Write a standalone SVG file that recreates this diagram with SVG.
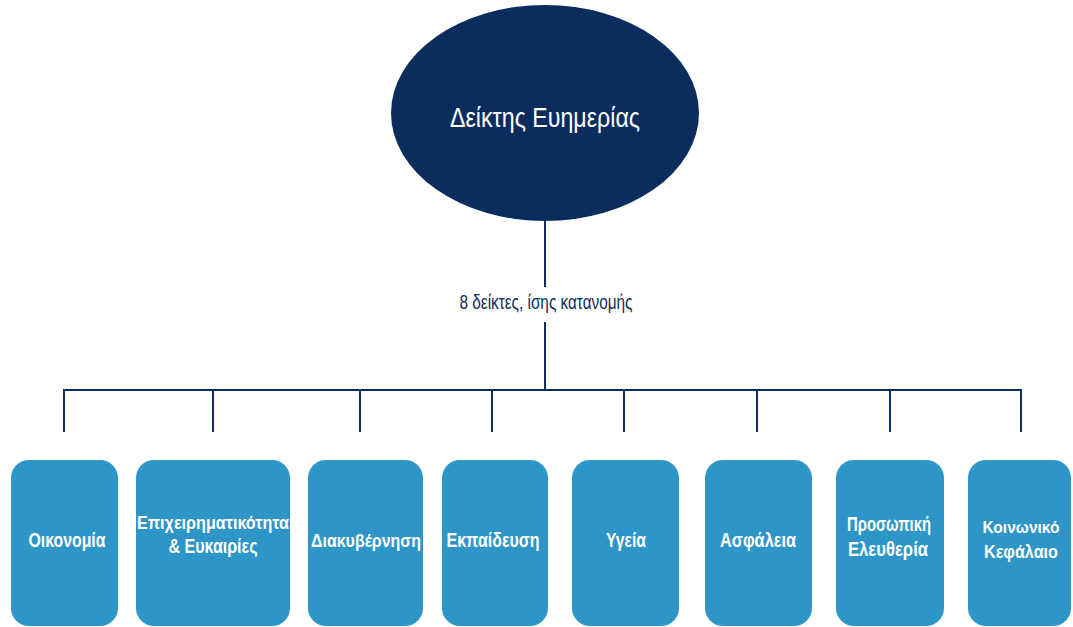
<svg xmlns="http://www.w3.org/2000/svg" width="1073" height="627" viewBox="0 0 1073 627">
<style>
.conn{stroke:#0d2d5c;stroke-width:2;fill:none}
.box{fill:#2e96c7}
.bl{font-family:"Liberation Sans",Arial,sans-serif;font-weight:bold;font-size:20px;fill:#fff;text-anchor:middle}
.sm{font-size:19px}
.xs{font-size:17px}
.root{fill:#0b2d5e}
.rt{font-family:"Liberation Sans",Arial,sans-serif;font-size:28px;fill:#fff;text-anchor:middle}
.lbl{font-family:"Liberation Sans",Arial,sans-serif;font-size:20px;fill:#0d2d5c;text-anchor:middle}
</style>
<rect width="1073" height="627" fill="#fff"/>
<g id="connectors">
<path class="conn" d="M545 220V390M64 432V390H1021V432M213 390V432M360 390V432M492 390V432M624 390V432M757 390V432M890 390V432"/>
<rect x="455" y="287" width="182" height="35" fill="#fff"/>
<text class="lbl" x="546" y="309" textLength="173" lengthAdjust="spacingAndGlyphs">8 δείκτες, ίσης κατανομής</text>
</g>
<g id="root">
<ellipse class="root" cx="545" cy="113" rx="154" ry="108"/>
<text class="rt" x="545" y="127" textLength="190" lengthAdjust="spacingAndGlyphs">Δείκτης Ευημερίας</text>
</g>
<g id="n1"><rect class="box" x="11" y="460" width="107" height="166" rx="18"/><text class="bl" x="67" y="547" textLength="77" lengthAdjust="spacingAndGlyphs">Οικονομία</text></g>
<g id="n2"><rect class="box" x="136" y="460" width="154" height="166" rx="18"/><text class="bl sm" x="213" y="529" textLength="152" lengthAdjust="spacingAndGlyphs">Επιχειρηματικότητα</text><text class="bl" x="213" y="553" textLength="89" lengthAdjust="spacingAndGlyphs">&amp; Ευκαιρίες</text></g>
<g id="n3"><rect class="box" x="308" y="460" width="115" height="166" rx="18"/><text class="bl sm" x="366" y="547" textLength="110" lengthAdjust="spacingAndGlyphs">Διακυβέρνηση</text></g>
<g id="n4"><rect class="box" x="442" y="460" width="106" height="166" rx="18"/><text class="bl" x="493" y="547" textLength="93" lengthAdjust="spacingAndGlyphs">Εκπαίδευση</text></g>
<g id="n5"><rect class="box" x="572" y="460" width="107" height="166" rx="18"/><text class="bl" x="626" y="547" textLength="40" lengthAdjust="spacingAndGlyphs">Υγεία</text></g>
<g id="n6"><rect class="box" x="705" y="460" width="107" height="166" rx="18"/><text class="bl" x="758" y="547" textLength="76" lengthAdjust="spacingAndGlyphs">Ασφάλεια</text></g>
<g id="n7"><rect class="box" x="836" y="460" width="108" height="166" rx="18"/><text class="bl" x="889" y="531" textLength="84" lengthAdjust="spacingAndGlyphs">Προσωπική</text><text class="bl" x="888" y="556" textLength="80" lengthAdjust="spacingAndGlyphs">Ελευθερία</text></g>
<g id="n8"><rect class="box" x="968" y="460" width="103" height="166" rx="18"/><text class="bl xs" x="1021" y="533" textLength="77" lengthAdjust="spacingAndGlyphs">Κοινωνικό</text><text class="bl sm" x="1021" y="558" textLength="74" lengthAdjust="spacingAndGlyphs">Κεφάλαιο</text></g>
</svg>
